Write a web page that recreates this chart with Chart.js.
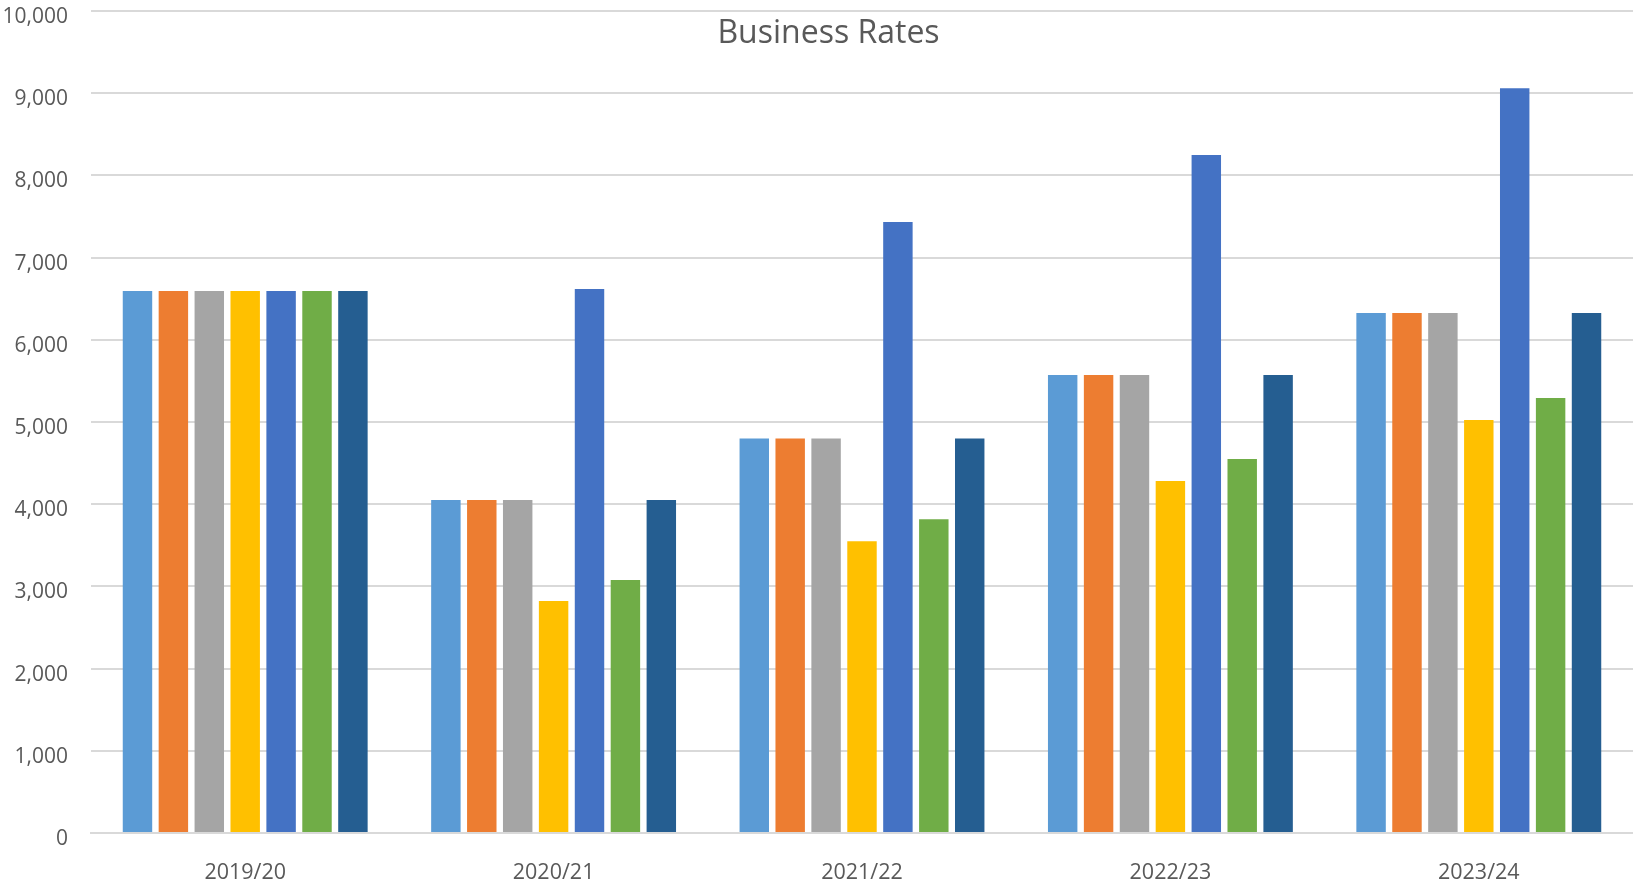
<!DOCTYPE html>
<html>
<head>
<meta charset="utf-8">
<title>Business Rates</title>
<script src="https://cdn.jsdelivr.net/npm/chart.js@4/dist/chart.umd.min.js"></script>
<style>
  html, body { margin: 0; padding: 0; background: #ffffff; }
  #wrap { position: relative; width: 1633px; height: 886px; }
</style>
</head>
<body>
<div id="wrap"><canvas id="chart"></canvas></div>
<script>
const categories = ["2019/20", "2020/21", "2021/22", "2022/23", "2023/24"];
const series1 = [6595, 4050, 4800, 5572, 6325];
const series2 = [6595, 4050, 4800, 5572, 6325];
const series3 = [6595, 4050, 4800, 5572, 6325];
const series4 = [6595, 2822, 3550, 4282, 5024];
const series5 = [6595, 6618, 7434, 8247, 9061];
const series6 = [6595, 3078, 3818, 4550, 5292];
const series7 = [6595, 4050, 4800, 5572, 6325];
const seriesNames = ["Series 1", "Series 2", "Series 3", "Series 4", "Series 5", "Series 6", "Series 7"];
const seriesColors = ["#5B9BD5", "#ED7D31", "#A5A5A5", "#FFC000", "#4472C4", "#70AD47", "#255E91"];
const yTicks = { min: 0, max: 10000, step: 1000 };
const chartTitle = "Business Rates";

const allSeries = [series1, series2, series3, series4, series5, series6, series7];
const FONT = "'Open Sans', 'Noto Sans', sans-serif";

// Title drawn over the plot area (as in the original, it does not take layout space)
const overlayTitle = {
  id: "overlayTitle",
  afterDraw(chart, args, opts) {
    const ctx = chart.ctx;
    ctx.save();
    ctx.font = `normal ${opts.size}px ${FONT}`;
    ctx.fillStyle = opts.color;
    ctx.textAlign = "center";
    ctx.textBaseline = "middle";
    const cx = (chart.width + opts.leftInset) / 2;
    ctx.fillText(opts.text, cx, opts.centerY);
    ctx.restore();
  }
};

new Chart(document.getElementById("chart"), {
  type: "bar",
  data: {
    labels: categories,
    datasets: allSeries.map((d, i) => ({
      label: seriesNames[i],
      data: d,
      backgroundColor: seriesColors[i],
      borderWidth: 0,
      categoryPercentage: 0.815,
      barPercentage: 0.82
    }))
  },
  plugins: [overlayTitle],
  options: {
    responsive: true,
    maintainAspectRatio: false,
    animation: false,
    layout: { autoPadding: false, padding: { left: 0, right: 0, top: 11, bottom: 0 } },
    plugins: {
      legend: { display: false },
      tooltip: { enabled: false },
      title: { display: false },
      overlayTitle: { text: chartTitle, color: "#595959", size: 32, centerY: 34, leftInset: 24 }
    },
    scales: {
      x: {
        afterFit: (scale) => { scale.height = 53; scale.paddingLeft = 0; scale.paddingRight = 0; },
        grid: { display: false, drawTicks: false },
        border: { display: true, color: "#D9D9D9", width: 2 },
        ticks: {
          color: "#595959",
          font: { family: FONT, size: 21.5, lineHeight: 1.2 },
          padding: 27
        }
      },
      y: {
        min: yTicks.min,
        max: yTicks.max,
        afterFit: (scale) => { scale.width = 91; scale.paddingTop = 0; scale.paddingBottom = 0; },
        grid: { color: "#D9D9D9", lineWidth: 2, drawTicks: false },
        border: { display: false },
        ticks: {
          stepSize: yTicks.step,
          color: "#595959",
          font: { family: FONT, size: 21, lineHeight: 1.05 },
          padding: 23,
          labelOffset: 6,
          callback: (v) => Number(v).toLocaleString("en-US")
        }
      }
    }
  }
});
</script>
</body>
</html>
